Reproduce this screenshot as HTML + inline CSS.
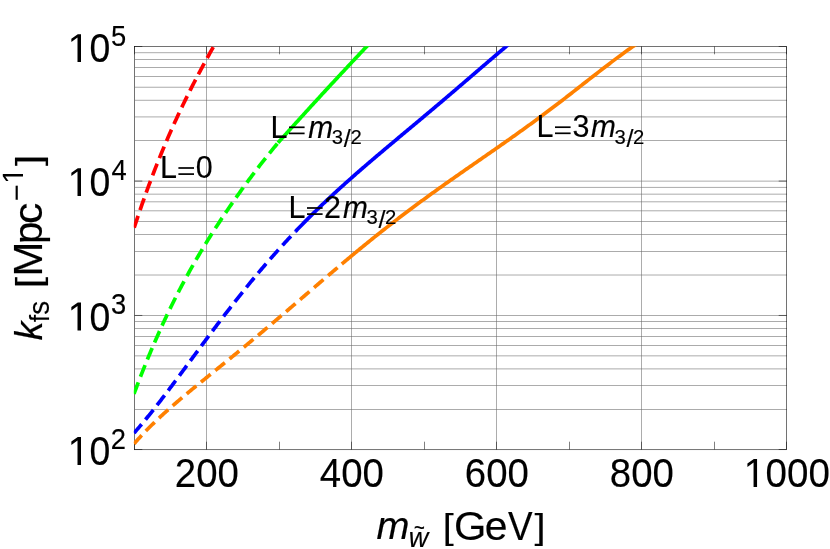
<!DOCTYPE html>
<html><head><meta charset="utf-8"><title>plot</title>
<style>
html,body{margin:0;padding:0;background:#fff;}
svg{display:block;will-change:transform;}
text{font-family:"Liberation Sans",sans-serif;fill:#000;stroke:#000;stroke-width:0.15px;}
</style></head>
<body>
<svg width="830" height="549" viewBox="0 0 830 549">
<rect width="830" height="549" fill="#fff"/>
<defs><clipPath id="cp"><rect x="133.8" y="46.3" width="653.4" height="403.9"/></clipPath></defs>
<g fill="#666" stroke="none" shape-rendering="crispEdges">
<rect x="134.5" y="409" width="652.00" height="1" fill-opacity="0.550"/>
<rect x="134.5" y="385" width="652.00" height="1" fill-opacity="0.545"/>
<rect x="134.5" y="368" width="652.00" height="1" fill-opacity="0.336"/>
<rect x="134.5" y="369" width="652.00" height="1" fill-opacity="0.214"/>
<rect x="134.5" y="355" width="652.00" height="1" fill-opacity="0.360"/>
<rect x="134.5" y="356" width="652.00" height="1" fill-opacity="0.190"/>
<rect x="134.5" y="345" width="652.00" height="1" fill-opacity="0.549"/>
<rect x="134.5" y="336" width="652.00" height="1" fill-opacity="0.550"/>
<rect x="134.5" y="328" width="652.00" height="1" fill-opacity="0.550"/>
<rect x="134.5" y="321" width="652.00" height="1" fill-opacity="0.550"/>
<rect x="134.5" y="315" width="652.00" height="1" fill-opacity="0.550"/>
<rect x="134.5" y="274" width="652.00" height="1" fill-opacity="0.270"/>
<rect x="134.5" y="275" width="652.00" height="1" fill-opacity="0.280"/>
<rect x="134.5" y="251" width="652.00" height="1" fill-opacity="0.550"/>
<rect x="134.5" y="234" width="652.00" height="1" fill-opacity="0.550"/>
<rect x="134.5" y="221" width="652.00" height="1" fill-opacity="0.550"/>
<rect x="134.5" y="210" width="652.00" height="1" fill-opacity="0.391"/>
<rect x="134.5" y="211" width="652.00" height="1" fill-opacity="0.159"/>
<rect x="134.5" y="201" width="652.00" height="1" fill-opacity="0.388"/>
<rect x="134.5" y="202" width="652.00" height="1" fill-opacity="0.162"/>
<rect x="134.5" y="193" width="652.00" height="1" fill-opacity="0.181"/>
<rect x="134.5" y="194" width="652.00" height="1" fill-opacity="0.369"/>
<rect x="134.5" y="186" width="652.00" height="1" fill-opacity="0.056"/>
<rect x="134.5" y="187" width="652.00" height="1" fill-opacity="0.494"/>
<rect x="134.5" y="180" width="652.00" height="1" fill-opacity="0.205"/>
<rect x="134.5" y="181" width="652.00" height="1" fill-opacity="0.345"/>
<rect x="134.5" y="140" width="652.00" height="1" fill-opacity="0.550"/>
<rect x="134.5" y="116" width="652.00" height="1" fill-opacity="0.325"/>
<rect x="134.5" y="117" width="652.00" height="1" fill-opacity="0.225"/>
<rect x="134.5" y="99" width="652.00" height="1" fill-opacity="0.116"/>
<rect x="134.5" y="100" width="652.00" height="1" fill-opacity="0.434"/>
<rect x="134.5" y="86" width="652.00" height="1" fill-opacity="0.140"/>
<rect x="134.5" y="87" width="652.00" height="1" fill-opacity="0.410"/>
<rect x="134.5" y="76" width="652.00" height="1" fill-opacity="0.550"/>
<rect x="134.5" y="67" width="652.00" height="1" fill-opacity="0.550"/>
<rect x="134.5" y="59" width="652.00" height="1" fill-opacity="0.550"/>
<rect x="134.5" y="52" width="652.00" height="1" fill-opacity="0.446"/>
<rect x="134.5" y="53" width="652.00" height="1" fill-opacity="0.104"/>
</g>
<g stroke="#666" stroke-width="0.55" fill="none">
<line x1="206.50" x2="206.50" y1="46.5" y2="449.5"/>
<line x1="351.50" x2="351.50" y1="46.5" y2="449.5"/>
<line x1="496.50" x2="496.50" y1="46.5" y2="449.5"/>
<line x1="641.50" x2="641.50" y1="46.5" y2="449.5"/>
</g>
<g stroke="#000" stroke-width="0.5" fill="none">
<line x1="134.50" x2="134.50" y1="46.5" y2="54.3"/>
<line x1="134.50" x2="134.50" y1="449.5" y2="441.7"/>
<line x1="206.50" x2="206.50" y1="46.5" y2="54.3"/>
<line x1="206.50" x2="206.50" y1="449.5" y2="441.7"/>
<line x1="279.50" x2="279.50" y1="46.5" y2="54.3"/>
<line x1="279.50" x2="279.50" y1="449.5" y2="441.7"/>
<line x1="351.50" x2="351.50" y1="46.5" y2="54.3"/>
<line x1="351.50" x2="351.50" y1="449.5" y2="441.7"/>
<line x1="424.50" x2="424.50" y1="46.5" y2="54.3"/>
<line x1="424.50" x2="424.50" y1="449.5" y2="441.7"/>
<line x1="496.50" x2="496.50" y1="46.5" y2="54.3"/>
<line x1="496.50" x2="496.50" y1="449.5" y2="441.7"/>
<line x1="569.50" x2="569.50" y1="46.5" y2="54.3"/>
<line x1="569.50" x2="569.50" y1="449.5" y2="441.7"/>
<line x1="641.50" x2="641.50" y1="46.5" y2="54.3"/>
<line x1="641.50" x2="641.50" y1="449.5" y2="441.7"/>
<line x1="714.50" x2="714.50" y1="46.5" y2="54.3"/>
<line x1="714.50" x2="714.50" y1="449.5" y2="441.7"/>
<line x1="786.50" x2="786.50" y1="46.5" y2="54.3"/>
<line x1="786.50" x2="786.50" y1="449.5" y2="441.7"/>
<line x1="134.5" x2="142.3" y1="449.50" y2="449.50"/>
<line x1="786.5" x2="778.7" y1="449.50" y2="449.50"/>
<line x1="134.5" x2="142.3" y1="315.46" y2="315.46"/>
<line x1="786.5" x2="778.7" y1="315.46" y2="315.46"/>
<line x1="134.5" x2="142.3" y1="181.07" y2="181.07"/>
<line x1="786.5" x2="778.7" y1="181.07" y2="181.07"/>
<line x1="134.5" x2="142.3" y1="46.50" y2="46.50"/>
<line x1="786.5" x2="778.7" y1="46.50" y2="46.50"/>
</g>
<rect x="134.5" y="46.5" width="652.00" height="403.25" fill="none" stroke="#000" stroke-width="0.55"/>
<g clip-path="url(#cp)">
<path d="M134.00,228.24 L135.00,225.17 L136.00,222.13 L137.00,219.12 L138.00,216.13 L139.00,213.17 L140.00,210.24 L141.00,207.33 L142.00,204.45 L143.00,201.59 L144.00,198.76 L145.00,195.96 L146.00,193.18 L147.00,190.42 L148.00,187.69 L149.00,184.98 L150.00,182.29 L151.00,179.63 L152.00,176.99 L153.00,174.37 L154.00,171.78 L155.00,169.20 L156.00,166.65 L157.00,164.12 L158.00,161.61 L159.00,159.12 L160.00,156.65 L161.00,154.20 L162.00,151.77 L163.00,149.36 L164.00,146.97 L165.00,144.60 L166.00,142.24 L167.00,139.91 L168.00,137.59 L169.00,135.29 L170.00,133.01 L171.00,130.74 L172.00,128.49 L173.00,126.26 L174.00,124.04 L175.00,121.84 L176.00,119.66 L177.00,117.49 L178.00,115.34 L179.00,113.20 L180.00,111.07 L181.00,108.96 L182.00,106.87 L183.00,104.79 L184.00,102.72 L185.00,100.66 L186.00,98.62 L187.00,96.59 L188.00,94.58 L189.00,92.57 L190.00,90.58 L191.00,88.60 L192.00,86.63 L193.00,84.68 L194.00,82.73 L195.00,80.80 L196.00,78.88 L197.00,76.96 L198.00,75.06 L199.00,73.17 L200.00,71.29 L201.00,69.41 L202.00,67.55 L203.00,65.69 L204.00,63.85 L205.00,62.01 L206.00,60.18 L207.00,58.36 L208.00,56.55 L209.00,54.75 L210.00,52.95 L211.00,51.17 L212.00,49.39 L213.00,47.61 L214.00,45.85 L215.00,44.09 L215.90,42.50" fill="none" stroke="#ff0000" stroke-width="3.7" stroke-dasharray="12.45 6.05" stroke-dashoffset="-0.6"/>
<path d="M134.00,393.84 L135.00,391.15 L136.00,388.48 L137.00,385.83 L138.00,383.20 L139.00,380.59 L140.00,378.00 L141.00,375.43 L142.00,372.88 L143.00,370.35 L144.00,367.84 L145.00,365.35 L146.00,362.88 L147.00,360.42 L148.00,357.99 L149.00,355.57 L150.00,353.17 L151.00,350.79 L152.00,348.43 L153.00,346.09 L154.00,343.76 L155.00,341.45 L156.00,339.16 L157.00,336.89 L158.00,334.63 L159.00,332.39 L160.00,330.17 L161.00,327.96 L162.00,325.77 L163.00,323.60 L164.00,321.44 L165.00,319.30 L166.00,317.18 L167.00,315.07 L168.00,312.97 L169.00,310.90 L170.00,308.83 L171.00,306.78 L172.00,304.75 L173.00,302.73 L174.00,300.72 L175.00,298.73 L176.00,296.76 L177.00,294.79 L178.00,292.84 L179.00,290.91 L180.00,288.98 L181.00,287.07 L182.00,285.18 L183.00,283.29 L184.00,281.42 L185.00,279.57 L186.00,277.72 L187.00,275.89 L188.00,274.06 L189.00,272.25 L190.00,270.45 L191.00,268.67 L192.00,266.89 L193.00,265.13 L194.00,263.37 L195.00,261.63 L196.00,259.90 L197.00,258.18 L198.00,256.47 L199.00,254.76 L200.00,253.07 L201.00,251.39 L202.00,249.72 L203.00,248.06 L204.00,246.41 L205.00,244.76 L206.00,243.13 L207.00,241.50 L208.00,239.89 L209.00,238.28 L210.00,236.68 L211.00,235.09 L212.00,233.50 L213.00,231.93 L214.00,230.36 L215.00,228.80 L216.00,227.25 L217.00,225.71 L218.00,224.17 L219.00,222.64 L220.00,221.12 L221.00,219.61 L222.00,218.10 L223.00,216.60 L224.00,215.11 L225.00,213.62 L226.00,212.14 L227.00,210.67 L228.00,209.20 L229.00,207.74 L230.00,206.28 L231.00,204.83 L232.00,203.39 L233.00,201.95 L234.00,200.52 L235.00,199.10 L236.00,197.68 L237.00,196.27 L238.00,194.86 L239.00,193.45 L240.00,192.06 L241.00,190.67 L242.00,189.28 L243.00,187.90 L244.00,186.52 L245.00,185.15 L246.00,183.79 L247.00,182.43 L248.00,181.07 L249.00,179.72 L250.00,178.38 L251.00,177.04 L252.00,175.70 L253.00,174.37 L254.00,173.05 L255.00,171.73 L256.00,170.41 L257.00,169.10 L258.00,167.80 L259.00,166.50 L260.00,165.21 L261.00,163.92 L262.00,162.63 L263.00,161.36 L264.00,160.08 L265.00,158.81 L266.00,157.55 L267.00,156.30 L268.00,155.04 L269.00,153.80 L270.00,152.56 L271.00,151.32 L272.00,150.10 L273.00,148.87 L274.00,147.66 L275.00,146.45 L276.00,145.24 L277.00,144.04 L278.00,142.83" fill="none" stroke="#00ff00" stroke-width="3.7" stroke-dasharray="12.45 6.05" stroke-dashoffset="0.2"/>
<path d="M278.00,142.83 L279.00,141.72 L280.00,140.60 L281.00,139.49 L282.00,138.37 L283.00,137.26 L284.00,136.15 L285.00,135.03 L286.00,133.92 L287.00,132.81 L288.00,131.70 L289.00,130.59 L290.00,129.49 L291.00,128.38 L292.00,127.27 L293.00,126.17 L294.00,125.06 L295.00,123.95 L296.00,122.85 L297.00,121.75 L298.00,120.64 L299.00,119.54 L300.00,118.44 L301.00,117.34 L302.00,116.24 L303.00,115.14 L304.00,114.04 L305.00,112.94 L306.00,111.84 L307.00,110.75 L308.00,109.65 L309.00,108.56 L310.00,107.46 L311.00,106.37 L312.00,105.27 L313.00,104.18 L314.00,103.09 L315.00,102.00 L316.00,100.91 L317.00,99.82 L318.00,98.73 L319.00,97.64 L320.00,96.55 L321.00,95.46 L322.00,94.37 L323.00,93.29 L324.00,92.20 L325.00,91.12 L326.00,90.03 L327.00,88.95 L328.00,87.87 L329.00,86.79 L330.00,85.71 L331.00,84.62 L332.00,83.54 L333.00,82.47 L334.00,81.39 L335.00,80.31 L336.00,79.23 L337.00,78.15 L338.00,77.08 L339.00,76.00 L340.00,74.93 L341.00,73.85 L342.00,72.78 L343.00,71.71 L344.00,70.64 L345.00,69.57 L346.00,68.50 L347.00,67.43 L348.00,66.36 L349.00,65.29 L350.00,64.22 L351.00,63.15 L352.00,62.09 L353.00,61.02 L354.00,59.95 L355.00,58.89 L356.00,57.83 L357.00,56.76 L358.00,55.70 L359.00,54.64 L360.00,53.58 L361.00,52.52 L362.00,51.46 L363.00,50.40 L364.00,49.34 L365.00,48.28 L366.00,47.23 L367.00,46.17 L368.00,45.11 L369.00,44.06 L370.00,43.00 L370.48,42.50" fill="none" stroke="#00ff00" stroke-width="3.7"/>
<path d="M134.00,433.08 L135.00,431.95 L136.00,430.81 L137.00,429.66 L138.00,428.51 L139.00,427.34 L140.00,426.17 L141.00,424.99 L142.00,423.81 L143.00,422.61 L144.00,421.41 L145.00,420.20 L146.00,418.98 L147.00,417.76 L148.00,416.53 L149.00,415.29 L150.00,414.05 L151.00,412.80 L152.00,411.55 L153.00,410.29 L154.00,409.02 L155.00,407.75 L156.00,406.48 L157.00,405.20 L158.00,403.91 L159.00,402.62 L160.00,401.33 L161.00,400.03 L162.00,398.73 L163.00,397.42 L164.00,396.11 L165.00,394.80 L166.00,393.49 L167.00,392.17 L168.00,390.84 L169.00,389.52 L170.00,388.19 L171.00,386.86 L172.00,385.53 L173.00,384.19 L174.00,382.85 L175.00,381.51 L176.00,380.17 L177.00,378.83 L178.00,377.48 L179.00,376.14 L180.00,374.79 L181.00,373.44 L182.00,372.09 L183.00,370.74 L184.00,369.38 L185.00,368.03 L186.00,366.68 L187.00,365.32 L188.00,363.97 L189.00,362.61 L190.00,361.26 L191.00,359.90 L192.00,358.55 L193.00,357.20 L194.00,355.84 L195.00,354.49 L196.00,353.13 L197.00,351.78 L198.00,350.43 L199.00,349.08 L200.00,347.73 L201.00,346.38 L202.00,345.03 L203.00,343.68 L204.00,342.33 L205.00,340.99 L206.00,339.64 L207.00,338.30 L208.00,336.96 L209.00,335.62 L210.00,334.29 L211.00,332.95 L212.00,331.62 L213.00,330.29 L214.00,328.96 L215.00,327.63 L216.00,326.30 L217.00,324.98 L218.00,323.66 L219.00,322.34 L220.00,321.02 L221.00,319.71 L222.00,318.40 L223.00,317.09 L224.00,315.78 L225.00,314.48 L226.00,313.18 L227.00,311.88 L228.00,310.59 L229.00,309.30 L230.00,308.01 L231.00,306.72 L232.00,305.44 L233.00,304.16 L234.00,302.88 L235.00,301.61 L236.00,300.34 L237.00,299.07 L238.00,297.81 L239.00,296.55 L240.00,295.29 L241.00,294.04 L242.00,292.79 L243.00,291.54 L244.00,290.30 L245.00,289.06 L246.00,287.82 L247.00,286.59 L248.00,285.36 L249.00,284.14 L250.00,282.92 L251.00,281.70 L252.00,280.48 L253.00,279.27 L254.00,278.07 L255.00,276.87 L256.00,275.67 L257.00,274.47 L258.00,273.28 L259.00,272.09 L260.00,270.91 L261.00,269.73 L262.00,268.55 L263.00,267.38 L264.00,266.21 L265.00,265.05 L266.00,263.89 L267.00,262.73 L268.00,261.58 L269.00,260.43 L270.00,259.29 L271.00,258.14 L272.00,257.01 L273.00,255.87 L274.00,254.75 L275.00,253.62 L276.00,252.50 L277.00,251.38 L278.00,250.27 L279.00,249.16 L280.00,248.05 L281.00,246.95 L282.00,245.85 L283.00,244.76 L284.00,243.67 L285.00,242.58 L286.00,241.50 L287.00,240.42 L288.00,239.35 L289.00,238.28 L290.00,237.21 L291.00,236.14 L292.00,235.09 L293.00,234.03 L294.00,232.98 L295.00,231.93 L295.50,231.41" fill="none" stroke="#0000ff" stroke-width="3.7" stroke-dasharray="12.45 6.03" stroke-dashoffset="0.8"/>
<path d="M295.50,231.41 L296.50,230.36 L297.50,229.32 L298.50,228.29 L299.50,227.25 L300.50,226.23 L301.50,225.20 L302.50,224.18 L303.50,223.16 L304.50,222.15 L305.50,221.14 L306.50,220.13 L307.50,219.12 L308.50,218.12 L309.50,217.13 L310.50,216.13 L311.50,215.14 L312.50,214.15 L313.50,213.17 L314.50,212.19 L315.50,211.21 L316.50,210.24 L317.50,209.27 L318.50,208.30 L319.50,207.33 L320.50,206.37 L321.50,205.41 L322.50,204.46 L323.50,203.50 L324.50,202.55 L325.50,201.61 L326.50,200.66 L327.50,199.72 L328.50,198.78 L329.50,197.85 L330.50,196.91 L331.50,195.98 L332.50,195.05 L333.50,194.13 L334.50,193.21 L335.50,192.29 L336.50,191.37 L337.50,190.45 L338.50,189.54 L339.50,188.63 L340.50,187.72 L341.50,186.82 L342.50,185.91 L343.50,185.01 L344.50,184.11 L345.50,183.22 L346.50,182.32 L347.50,181.43 L348.50,180.54 L349.50,179.65 L350.50,178.76 L351.50,177.88 L352.50,177.00 L353.50,176.12 L354.50,175.24 L355.50,174.36 L356.50,173.48 L357.50,172.61 L358.50,171.74 L359.50,170.87 L360.50,170.00 L361.50,169.13 L362.50,168.27 L363.50,167.40 L364.50,166.54 L365.50,165.68 L366.50,164.82 L367.50,163.96 L368.50,163.10 L369.50,162.24 L370.50,161.39 L371.50,160.54 L372.50,159.68 L373.50,158.83 L374.50,157.98 L375.50,157.13 L376.50,156.28 L377.50,155.44 L378.50,154.59 L379.50,153.74 L380.50,152.90 L381.50,152.05 L382.50,151.21 L383.50,150.37 L384.50,149.52 L385.50,148.68 L386.50,147.84 L387.50,147.00 L388.50,146.16 L389.50,145.32 L390.50,144.48 L391.50,143.65 L392.50,142.81 L393.50,141.97 L394.50,141.13 L395.50,140.30 L396.50,139.46 L397.50,138.62 L398.50,137.79 L399.50,136.95 L400.50,136.12 L401.50,135.28 L402.50,134.45 L403.50,133.61 L404.50,132.78 L405.50,131.94 L406.50,131.11 L407.50,130.27 L408.50,129.43 L409.50,128.60 L410.50,127.76 L411.50,126.93 L412.50,126.09 L413.50,125.26 L414.50,124.42 L415.50,123.58 L416.50,122.75 L417.50,121.91 L418.50,121.07 L419.50,120.24 L420.50,119.40 L421.50,118.56 L422.50,117.72 L423.50,116.88 L424.50,116.04 L425.50,115.20 L426.50,114.36 L427.50,113.52 L428.50,112.68 L429.50,111.84 L430.50,111.00 L431.50,110.16 L432.50,109.32 L433.50,108.47 L434.50,107.63 L435.50,106.78 L436.50,105.94 L437.50,105.09 L438.50,104.25 L439.50,103.40 L440.50,102.55 L441.50,101.71 L442.50,100.86 L443.50,100.01 L444.50,99.16 L445.50,98.31 L446.50,97.46 L447.50,96.61 L448.50,95.76 L449.50,94.91 L450.50,94.06 L451.50,93.20 L452.50,92.35 L453.50,91.50 L454.50,90.64 L455.50,89.79 L456.50,88.93 L457.50,88.08 L458.50,87.22 L459.50,86.36 L460.50,85.51 L461.50,84.65 L462.50,83.79 L463.50,82.94 L464.50,82.08 L465.50,81.22 L466.50,80.36 L467.50,79.50 L468.50,78.64 L469.50,77.78 L470.50,76.92 L471.50,76.06 L472.50,75.20 L473.50,74.34 L474.50,73.48 L475.50,72.62 L476.50,71.76 L477.50,70.90 L478.50,70.04 L479.50,69.18 L480.50,68.32 L481.50,67.46 L482.50,66.60 L483.50,65.74 L484.50,64.89 L485.50,64.03 L486.50,63.17 L487.50,62.31 L488.50,61.45 L489.50,60.60 L490.50,59.74 L491.50,58.89 L492.50,58.03 L493.50,57.18 L494.50,56.33 L495.50,55.48 L496.50,54.63 L497.50,53.78 L498.50,52.93 L499.50,52.08 L500.50,51.24 L501.50,50.39 L502.50,49.55 L503.50,48.71 L504.50,47.87 L505.50,47.03 L506.50,46.19 L507.50,45.36 L508.50,44.52 L509.50,43.69 L510.50,42.86 L510.94,42.50" fill="none" stroke="#0000ff" stroke-width="3.7"/>
<path d="M134.00,443.84 L135.00,442.70 L136.00,441.56 L137.00,440.44 L138.00,439.34 L139.00,438.24 L140.00,437.15 L141.00,436.07 L142.00,435.00 L143.00,433.94 L144.00,432.89 L145.00,431.85 L146.00,430.81 L147.00,429.79 L148.00,428.77 L149.00,427.76 L150.00,426.76 L151.00,425.77 L152.00,424.79 L153.00,423.81 L154.00,422.84 L155.00,421.87 L156.00,420.91 L157.00,419.96 L158.00,419.02 L159.00,418.08 L160.00,417.15 L161.00,416.22 L162.00,415.30 L163.00,414.38 L164.00,413.47 L165.00,412.56 L166.00,411.66 L167.00,410.76 L168.00,409.87 L169.00,408.98 L170.00,408.10 L171.00,407.22 L172.00,406.34 L173.00,405.47 L174.00,404.60 L175.00,403.74 L176.00,402.87 L177.00,402.02 L178.00,401.16 L179.00,400.31 L180.00,399.46 L181.00,398.61 L182.00,397.77 L183.00,396.92 L184.00,396.08 L185.00,395.25 L186.00,394.41 L187.00,393.58 L188.00,392.75 L189.00,391.92 L190.00,391.09 L191.00,390.26 L192.00,389.44 L193.00,388.62 L194.00,387.80 L195.00,386.98 L196.00,386.16 L197.00,385.34 L198.00,384.52 L199.00,383.71 L200.00,382.89 L201.00,382.08 L202.00,381.26 L203.00,380.45 L204.00,379.64 L205.00,378.83 L206.00,378.01 L207.00,377.20 L208.00,376.39 L209.00,375.58 L210.00,374.77 L211.00,373.96 L212.00,373.15 L213.00,372.34 L214.00,371.53 L215.00,370.72 L216.00,369.91 L217.00,369.10 L218.00,368.29 L219.00,367.48 L220.00,366.67 L221.00,365.86 L222.00,365.05 L223.00,364.23 L224.00,363.42 L225.00,362.61 L226.00,361.80 L227.00,360.98 L228.00,360.17 L229.00,359.35 L230.00,358.54 L231.00,357.72 L232.00,356.91 L233.00,356.09 L234.00,355.27 L235.00,354.45 L236.00,353.63 L237.00,352.81 L238.00,351.99 L239.00,351.17 L240.00,350.35 L241.00,349.52 L242.00,348.70 L243.00,347.88 L244.00,347.05 L245.00,346.22 L246.00,345.40 L247.00,344.57 L248.00,343.74 L249.00,342.91 L250.00,342.08 L251.00,341.25 L252.00,340.42 L253.00,339.58 L254.00,338.75 L255.00,337.92 L256.00,337.08 L257.00,336.24 L258.00,335.41 L259.00,334.57 L260.00,333.73 L261.00,332.89 L262.00,332.05 L263.00,331.21 L264.00,330.37 L265.00,329.53 L266.00,328.68 L267.00,327.84 L268.00,326.99 L269.00,326.15 L270.00,325.30 L271.00,324.45 L272.00,323.61 L273.00,322.76 L274.00,321.91 L275.00,321.06 L276.00,320.21 L277.00,319.36 L278.00,318.51 L279.00,317.66 L280.00,316.80 L281.00,315.95 L282.00,315.10 L283.00,314.24 L284.00,313.39 L285.00,312.53 L286.00,311.68 L287.00,310.82 L288.00,309.97 L289.00,309.11 L290.00,308.25 L291.00,307.40 L292.00,306.54 L293.00,305.68 L294.00,304.82 L295.00,303.97 L296.00,303.11 L297.00,302.25 L298.00,301.39 L299.00,300.53 L300.00,299.67 L301.00,298.82 L302.00,297.96 L303.00,297.10 L304.00,296.24 L305.00,295.38 L306.00,294.52 L307.00,293.66 L308.00,292.80 L309.00,291.94 L310.00,291.09 L311.00,290.23 L312.00,289.37 L313.00,288.51 L314.00,287.65 L315.00,286.80 L316.00,285.94 L317.00,285.08 L318.00,284.23 L319.00,283.37 L320.00,282.52 L321.00,281.66 L322.00,280.81 L323.00,279.95 L324.00,279.10 L325.00,278.24 L326.00,277.39 L327.00,276.54 L328.00,275.69 L329.00,274.84 L330.00,273.99 L331.00,273.14 L332.00,272.29 L333.00,271.44 L334.00,270.59 L335.00,269.75 L336.00,268.90 L337.00,268.06 L338.00,267.21 L339.00,266.37 L340.00,265.52 L341.00,264.68 L341.80,264.01" fill="none" stroke="#ff8000" stroke-width="3.7" stroke-dasharray="12.4 6.02" stroke-dashoffset="0.9"/>
<path d="M341.80,264.01 L342.80,263.17 L343.80,262.33 L344.80,261.49 L345.80,260.66 L346.80,259.82 L347.80,258.98 L348.80,258.15 L349.80,257.32 L350.80,256.49 L351.80,255.65 L352.80,254.82 L353.80,254.00 L354.80,253.17 L355.80,252.34 L356.80,251.52 L357.80,250.69 L358.80,249.87 L359.80,249.05 L360.80,248.23 L361.80,247.41 L362.80,246.59 L363.80,245.77 L364.80,244.96 L365.80,244.15 L366.80,243.33 L367.80,242.52 L368.80,241.71 L369.80,240.90 L370.80,240.10 L371.80,239.29 L372.80,238.49 L373.80,237.68 L374.80,236.88 L375.80,236.08 L376.80,235.28 L377.80,234.49 L378.80,233.69 L379.80,232.90 L380.80,232.10 L381.80,231.31 L382.80,230.52 L383.80,229.73 L384.80,228.95 L385.80,228.16 L386.80,227.38 L387.80,226.59 L388.80,225.81 L389.80,225.03 L390.80,224.25 L391.80,223.48 L392.80,222.70 L393.80,221.93 L394.80,221.16 L395.80,220.38 L396.80,219.62 L397.80,218.85 L398.80,218.08 L399.80,217.32 L400.80,216.55 L401.80,215.79 L402.80,215.03 L403.80,214.27 L404.80,213.51 L405.80,212.76 L406.80,212.00 L407.80,211.25 L408.80,210.50 L409.80,209.75 L410.80,209.00 L411.80,208.25 L412.80,207.51 L413.80,206.76 L414.80,206.02 L415.80,205.28 L416.80,204.53 L417.80,203.80 L418.80,203.06 L419.80,202.32 L420.80,201.59 L421.80,200.85 L422.80,200.12 L423.80,199.39 L424.80,198.66 L425.80,197.93 L426.80,197.20 L427.80,196.47 L428.80,195.75 L429.80,195.03 L430.80,194.30 L431.80,193.58 L432.80,192.86 L433.80,192.14 L434.80,191.42 L435.80,190.70 L436.80,189.99 L437.80,189.27 L438.80,188.56 L439.80,187.85 L440.80,187.13 L441.80,186.42 L442.80,185.71 L443.80,185.00 L444.80,184.29 L445.80,183.59 L446.80,182.88 L447.80,182.17 L448.80,181.47 L449.80,180.77 L450.80,180.06 L451.80,179.36 L452.80,178.66 L453.80,177.96 L454.80,177.25 L455.80,176.55 L456.80,175.86 L457.80,175.16 L458.80,174.46 L459.80,173.76 L460.80,173.06 L461.80,172.37 L462.80,171.67 L463.80,170.97 L464.80,170.28 L465.80,169.58 L466.80,168.89 L467.80,168.19 L468.80,167.50 L469.80,166.81 L470.80,166.11 L471.80,165.42 L472.80,164.73 L473.80,164.03 L474.80,163.34 L475.80,162.65 L476.80,161.95 L477.80,161.26 L478.80,160.57 L479.80,159.88 L480.80,159.18 L481.80,158.49 L482.80,157.80 L483.80,157.10 L484.80,156.41 L485.80,155.72 L486.80,155.02 L487.80,154.33 L488.80,153.64 L489.80,152.94 L490.80,152.25 L491.80,151.55 L492.80,150.86 L493.80,150.16 L494.80,149.46 L495.80,148.77 L496.80,148.07 L497.80,147.37 L498.80,146.67 L499.80,145.98 L500.80,145.28 L501.80,144.58 L502.80,143.87 L503.80,143.17 L504.80,142.47 L505.80,141.77 L506.80,141.06 L507.80,140.36 L508.80,139.66 L509.80,138.95 L510.80,138.24 L511.80,137.53 L512.80,136.83 L513.80,136.12 L514.80,135.41 L515.80,134.69 L516.80,133.98 L517.80,133.27 L518.80,132.55 L519.80,131.84 L520.80,131.12 L521.80,130.40 L522.80,129.69 L523.80,128.97 L524.80,128.24 L525.80,127.52 L526.80,126.80 L527.80,126.07 L528.80,125.35 L529.80,124.62 L530.80,123.89 L531.80,123.16 L532.80,122.43 L533.80,121.70 L534.80,120.97 L535.80,120.23 L536.80,119.50 L537.80,118.76 L538.80,118.02 L539.80,117.28 L540.80,116.54 L541.80,115.80 L542.80,115.06 L543.80,114.31 L544.80,113.56 L545.80,112.82 L546.80,112.07 L547.80,111.32 L548.80,110.57 L549.80,109.81 L550.80,109.06 L551.80,108.30 L552.80,107.55 L553.80,106.79 L554.80,106.03 L555.80,105.27 L556.80,104.51 L557.80,103.74 L558.80,102.98 L559.80,102.21 L560.80,101.45 L561.80,100.68 L562.80,99.91 L563.80,99.14 L564.80,98.37 L565.80,97.59 L566.80,96.82 L567.80,96.05 L568.80,95.27 L569.80,94.49 L570.80,93.71 L571.80,92.94 L572.80,92.16 L573.80,91.38 L574.80,90.59 L575.80,89.81 L576.80,89.03 L577.80,88.24 L578.80,87.46 L579.80,86.67 L580.80,85.89 L581.80,85.10 L582.80,84.32 L583.80,83.53 L584.80,82.74 L585.80,81.96 L586.80,81.19 L587.80,80.41 L588.80,79.63 L589.80,78.86 L590.80,78.08 L591.80,77.30 L592.80,76.53 L593.80,75.75 L594.80,74.97 L595.80,74.20 L596.80,73.42 L597.80,72.65 L598.80,71.87 L599.80,71.10 L600.80,70.33 L601.80,69.55 L602.80,68.78 L603.80,68.01 L604.80,67.24 L605.80,66.47 L606.80,65.71 L607.80,64.94 L608.80,64.18 L609.80,63.41 L610.80,62.65 L611.80,61.89 L612.80,61.14 L613.80,60.38 L614.80,59.63 L615.80,58.88 L616.80,58.13 L617.80,57.38 L618.80,56.64 L619.80,55.90 L620.80,55.16 L621.80,54.43 L622.80,53.70 L623.80,52.97 L624.80,52.24 L625.80,51.52 L626.80,50.81 L627.80,50.09 L628.80,49.38 L629.80,48.68 L630.80,47.97 L631.80,47.26 L632.80,46.56 L633.80,45.86 L634.80,45.17 L635.80,44.48 L636.80,43.80 L637.80,43.12 L638.72,42.50" fill="none" stroke="#ff8000" stroke-width="3.7"/>
</g>
<g>
<text transform="translate(174.87,487.0) scale(0.97,1.025)" font-size="39.6">200</text>
<text transform="translate(319.87,487.0) scale(0.97,1.025)" font-size="39.6">400</text>
<text transform="translate(464.87,487.0) scale(0.97,1.025)" font-size="39.6">600</text>
<text transform="translate(609.87,487.0) scale(0.97,1.025)" font-size="39.6">800</text>
<path d="M753.56,487.00 L753.56,462.48 L747.41,466.98 L747.41,463.61 L753.85,459.07 L757.06,459.07 L757.06,487.00Z" fill="#000"/>
<text transform="translate(765.62,487.00) scale(0.975,1.0250)" font-size="39.6">000</text>
<path d="M77.50,62.10 L77.50,37.58 L71.35,42.08 L71.35,38.71 L77.79,34.17 L81.00,34.17 L81.00,62.10Z" fill="#000"/>
<text transform="translate(89.56,62.10) scale(0.945,1.0250)" font-size="39.6">0</text>
<text transform="translate(111.00,45.90) scale(0.9600,1.0300)" font-size="28.5">5</text>
<path d="M77.50,196.10 L77.50,171.58 L71.35,176.08 L71.35,172.71 L77.79,168.17 L81.00,168.17 L81.00,196.10Z" fill="#000"/>
<text transform="translate(89.56,196.10) scale(0.945,1.0250)" font-size="39.6">0</text>
<text transform="translate(111.47,179.90) scale(0.9600,1.0300)" font-size="28.5">4</text>
<path d="M77.50,330.50 L77.50,305.98 L71.35,310.48 L71.35,307.11 L77.79,302.57 L81.00,302.57 L81.00,330.50Z" fill="#000"/>
<text transform="translate(89.56,330.50) scale(0.945,1.0250)" font-size="39.6">0</text>
<text transform="translate(111.06,314.30) scale(0.9600,1.0300)" font-size="28.5">3</text>
<path d="M77.50,464.90 L77.50,440.38 L71.35,444.88 L71.35,441.51 L77.79,436.97 L81.00,436.97 L81.00,464.90Z" fill="#000"/>
<text transform="translate(89.56,464.90) scale(0.945,1.0250)" font-size="39.6">0</text>
<text transform="translate(110.72,448.70) scale(0.9600,1.0300)" font-size="28.5">2</text>
<text transform="translate(159.90,178.20) scale(1.0000,1.0100)" font-size="30.5">L</text>
<rect x="178.40" y="167.15" width="15.60" height="1.7" fill="#000"/><rect x="178.40" y="173.25" width="15.60" height="1.7" fill="#000"/>
<text transform="translate(195.81,178.20) scale(1.0000,1.0100)" font-size="30.5">0</text>
<text transform="translate(270.50,137.50) scale(1.0000,1.0100)" font-size="30.5">L</text>
<rect x="289.00" y="126.45" width="15.60" height="1.7" fill="#000"/><rect x="289.00" y="132.55" width="15.60" height="1.7" fill="#000"/>
<text transform="translate(308.30,137.50) scale(0.9793,1.0000)" font-size="30.5" font-style="italic">m</text>
<text transform="translate(331.83,143.70) scale(1.0000,1.0000)" font-size="20.3">3</text>
<text transform="translate(343.80,146.90) scale(1.0242,1.0000)" font-size="24.6">/</text>
<text transform="translate(350.38,143.70) scale(1.0000,1.0000)" font-size="20.3">2</text>
<text transform="translate(288.50,218.20) scale(1.0000,1.0100)" font-size="30.5">L</text>
<rect x="307.00" y="207.15" width="15.60" height="1.7" fill="#000"/><rect x="307.00" y="213.25" width="15.60" height="1.7" fill="#000"/>
<text transform="translate(324.07,218.20) scale(1.0000,1.0100)" font-size="30.5">2</text>
<text transform="translate(342.90,218.20) scale(0.9793,1.0000)" font-size="30.5" font-style="italic">m</text>
<text transform="translate(366.43,224.40) scale(1.0000,1.0000)" font-size="20.3">3</text>
<text transform="translate(378.40,227.60) scale(1.0242,1.0000)" font-size="24.6">/</text>
<text transform="translate(384.98,224.40) scale(1.0000,1.0000)" font-size="20.3">2</text>
<text transform="translate(536.50,137.40) scale(1.0000,1.0100)" font-size="30.5">L</text>
<rect x="555.00" y="126.35" width="15.60" height="1.7" fill="#000"/><rect x="555.00" y="132.45" width="15.60" height="1.7" fill="#000"/>
<text transform="translate(572.44,137.40) scale(1.0000,1.0100)" font-size="30.5">3</text>
<text transform="translate(590.90,137.40) scale(0.9793,1.0000)" font-size="30.5" font-style="italic">m</text>
<text transform="translate(614.43,143.60) scale(1.0000,1.0000)" font-size="20.3">3</text>
<text transform="translate(626.40,146.80) scale(1.0242,1.0000)" font-size="24.6">/</text>
<text transform="translate(632.98,143.60) scale(1.0000,1.0000)" font-size="20.3">2</text>
<text transform="translate(376.54,539.40) scale(1.0002,1.0000)" font-size="39.6" font-style="italic">m</text>
<text transform="translate(408.75,546.80) scale(0.9760,1.0000)" font-size="27.8" font-style="italic">w</text>
<text transform="translate(414.07,536.00) scale(1.0000,1.4000)" font-size="18.5">~</text>
<text transform="translate(442.68,538.90) scale(1.0000,0.9000)" font-size="39.6">[</text>
<text transform="translate(454.10,539.90) scale(1.0521,1.0250)" font-size="39.6">G</text>
<text transform="translate(484.86,539.90) scale(1.0333,1.0250)" font-size="39.6">e</text>
<text transform="translate(508.04,539.90) scale(0.9323,1.0250)" font-size="39.6">V</text>
<text transform="translate(534.59,538.90) scale(1.0000,0.9000)" font-size="39.6">]</text>
<g transform="rotate(-90)"><text transform="translate(-340.32,42.00) scale(0.9469,1.0000)" font-size="39.6" font-style="italic">k</text>
<text transform="translate(-322.06,49.00) scale(0.9200,1.0000)" font-size="28">f</text>
<text transform="translate(-314.77,49.00) scale(0.9911,1.0400)" font-size="28">s</text>
<text transform="translate(-288.02,40.70) scale(1.0000,0.9000)" font-size="39.6">[</text>
<text transform="translate(-276.76,42.00) scale(1.0645,1.0250)" font-size="39.6">M</text>
<text transform="translate(-244.01,42.00) scale(1.0220,1.0250)" font-size="39.6">p</text>
<text transform="translate(-224.12,42.00) scale(1.0800,1.0250)" font-size="39.6">c</text>
<text transform="translate(-201.11,25.50) scale(1.0000,1.0000)" font-size="28.5">−</text>
<path d="M-176.52,23.00 L-176.52,5.27 L-180.94,8.52 L-180.94,6.09 L-176.31,2.80 L-174.00,2.80 L-174.00,23.00Z" fill="#000"/>
<text transform="translate(-166.11,40.70) scale(1.0000,0.9000)" font-size="39.6">]</text></g>
</g>
</svg>
</body></html>
